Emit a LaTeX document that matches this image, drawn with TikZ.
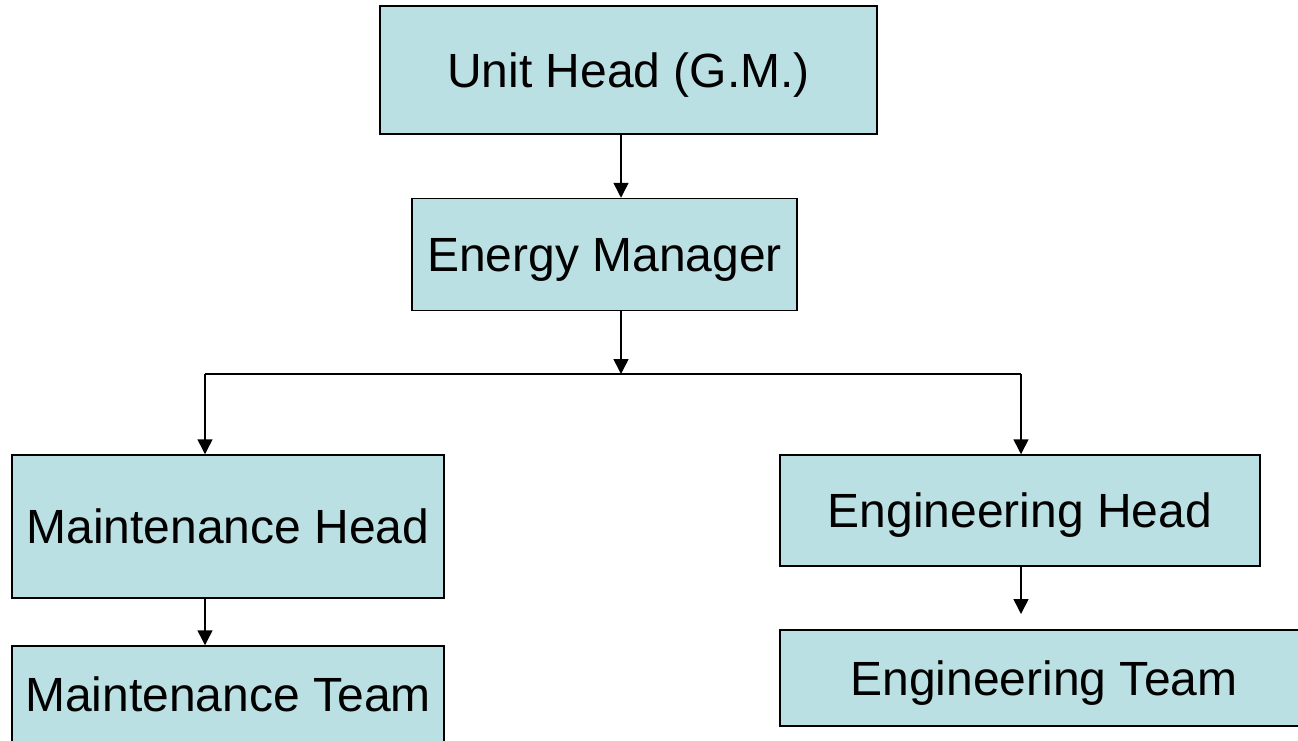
\documentclass[tikz,border=0pt]{standalone}
\usepackage{fontspec}
\setmainfont{Liberation Sans}
\usetikzlibrary{arrows.meta}
\definecolor{boxfill}{HTML}{BBE0E3}
\tikzset{
  orgbox/.style={draw=black, line width=1.5pt, fill=boxfill, inner sep=0pt,
    text height=34.4pt, text depth=0pt, font=\fontsize{48}{58}\selectfont},
  link/.style={line width=1.5pt, -{Triangle[width=15pt,length=15pt]}}
}
\begin{document}
\begin{tikzpicture}[x=1pt,y=-1pt]
\useasboundingbox (0,0) rectangle (1298,740);
%
\node[orgbox, minimum width=497pt, minimum height=128pt] (uh) at (628.5,70) {Unit Head (G.M.)};
\node[orgbox, minimum width=385pt, minimum height=112pt] (em) at (604.5,254.5) {Energy Manager};
\node[orgbox, minimum width=432pt, minimum height=143pt] (mh) at (228,526.5) {Maintenance Head};
\node[orgbox, minimum width=432pt, minimum height=96pt] (mt) at (228,694) {Maintenance Team};
\node[orgbox, minimum width=480pt, minimum height=111pt] (eh) at (1020,510.5) {Engineering Head};
\node[orgbox, minimum width=528pt, minimum height=96pt] (et) at (1044,678) {Engineering Team};
%
\coordinate (split) at (621,374);
\coordinate (lsplit) at (205,374);
\coordinate (rsplit) at (1021,374);
\coordinate (etgap) at (1021,614);
%
\draw[link] (uh.south -| split) -- (em.north -| split);
\draw[link] (em.south -| split) -- (split);
\draw[line width=1.5pt] (lsplit) -- (rsplit);
\draw[link] (lsplit) -- (lsplit |- mh.north);
\draw[link] (rsplit) -- (rsplit |- eh.north);
\draw[link] (lsplit |- mh.south) -- (lsplit |- mt.north);
\draw[link] (rsplit |- eh.south) -- (etgap);
%
\end{tikzpicture}
\end{document}
